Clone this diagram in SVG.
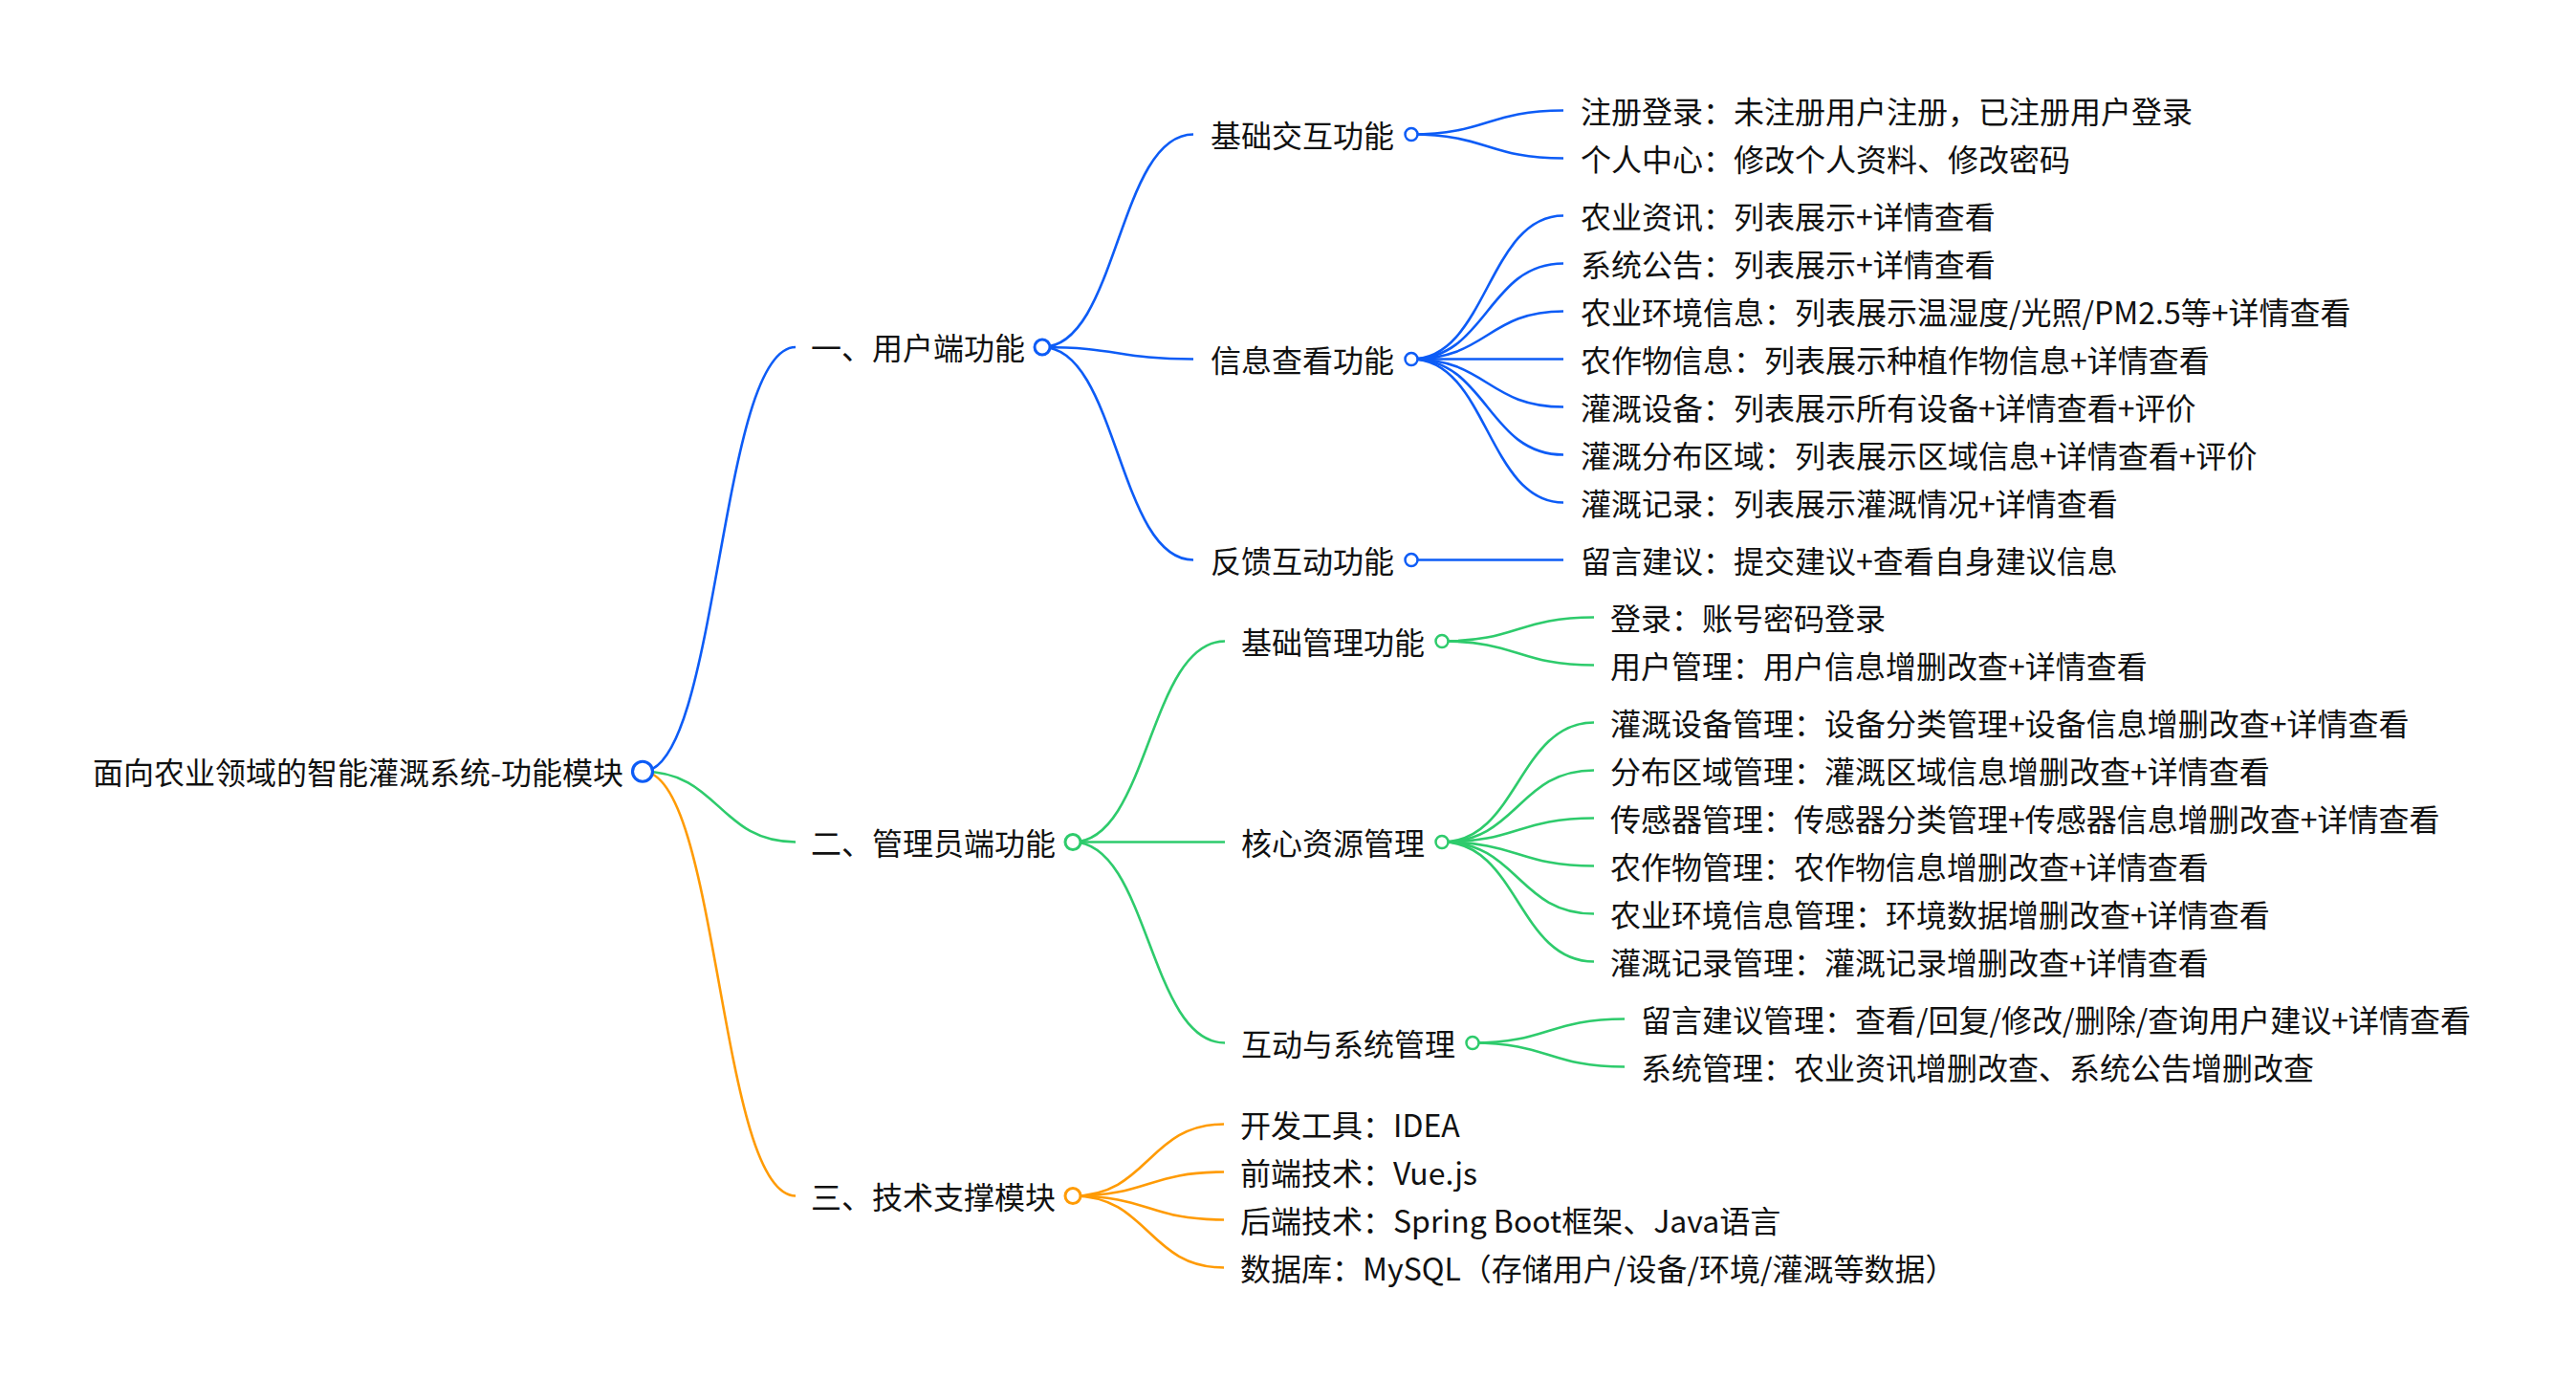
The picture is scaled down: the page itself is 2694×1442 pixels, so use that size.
<svg xmlns="http://www.w3.org/2000/svg" width="2694" height="1442" viewBox="0 0 2694 1442">
<style>
text{font-family:"Noto Sans CJK SC","Noto Sans",sans-serif;font-size:32px;fill:#111}
.ln{fill:none;stroke-width:2.6}
.b{stroke:#0d5cf6}
.g{stroke:#2ecb6c}
.o{stroke:#ff9b05}
.c0{fill:#fff;stroke-width:3.2}
.c1{fill:#fff;stroke-width:3}
.c2{fill:#fff;stroke-width:2.5}
</style>
<rect width="2694" height="1442" fill="#fff"/>
<g id="connectors">
<path class="ln b" d="M672,806.75 C752,806.75 752,363 832,363"/>
<path class="ln g" d="M672,806.75 C752,806.75 752,880.5 832,880.5"/>
<path class="ln o" d="M672,806.75 C752,806.75 752,1250.5 832,1250.5"/>
<path class="ln b" d="M1090,363 C1169,363 1169,140.5 1248,140.5"/>
<path class="ln b" d="M1090,363 C1169,363 1169,375.5 1248,375.5"/>
<path class="ln b" d="M1090,363 C1169,363 1169,585.5 1248,585.5"/>
<path class="ln b" d="M1476,140.5 C1555.5,140.5 1555.5,115.5 1635,115.5"/>
<path class="ln b" d="M1476,140.5 C1555.5,140.5 1555.5,165.5 1635,165.5"/>
<path class="ln b" d="M1476,375.5 C1555.5,375.5 1555.5,225.5 1635,225.5"/>
<path class="ln b" d="M1476,375.5 C1555.5,375.5 1555.5,275.5 1635,275.5"/>
<path class="ln b" d="M1476,375.5 C1555.5,375.5 1555.5,325.5 1635,325.5"/>
<path class="ln b" d="M1476,375.5 L1635,375.5"/>
<path class="ln b" d="M1476,375.5 C1555.5,375.5 1555.5,425.5 1635,425.5"/>
<path class="ln b" d="M1476,375.5 C1555.5,375.5 1555.5,475.5 1635,475.5"/>
<path class="ln b" d="M1476,375.5 C1555.5,375.5 1555.5,525.5 1635,525.5"/>
<path class="ln b" d="M1476,585.5 L1635,585.5"/>
<path class="ln g" d="M1122,880.5 C1201.5,880.5 1201.5,670.5 1281,670.5"/>
<path class="ln g" d="M1122,880.5 L1281,880.5"/>
<path class="ln g" d="M1122,880.5 C1201.5,880.5 1201.5,1090.5 1281,1090.5"/>
<path class="ln g" d="M1508,670.5 C1587.5,670.5 1587.5,645.5 1667,645.5"/>
<path class="ln g" d="M1508,670.5 C1587.5,670.5 1587.5,695.5 1667,695.5"/>
<path class="ln g" d="M1508,880.5 C1587.5,880.5 1587.5,755.5 1667,755.5"/>
<path class="ln g" d="M1508,880.5 C1587.5,880.5 1587.5,805.5 1667,805.5"/>
<path class="ln g" d="M1508,880.5 C1587.5,880.5 1587.5,855.5 1667,855.5"/>
<path class="ln g" d="M1508,880.5 C1587.5,880.5 1587.5,905.5 1667,905.5"/>
<path class="ln g" d="M1508,880.5 C1587.5,880.5 1587.5,955.5 1667,955.5"/>
<path class="ln g" d="M1508,880.5 C1587.5,880.5 1587.5,1005.5 1667,1005.5"/>
<path class="ln g" d="M1540,1090.5 C1619.5,1090.5 1619.5,1065.5 1699,1065.5"/>
<path class="ln g" d="M1540,1090.5 C1619.5,1090.5 1619.5,1115.5 1699,1115.5"/>
<path class="ln o" d="M1122,1250.5 C1201,1250.5 1201,1175.5 1280,1175.5"/>
<path class="ln o" d="M1122,1250.5 C1201,1250.5 1201,1225.5 1280,1225.5"/>
<path class="ln o" d="M1122,1250.5 C1201,1250.5 1201,1275.5 1280,1275.5"/>
<path class="ln o" d="M1122,1250.5 C1201,1250.5 1201,1325.5 1280,1325.5"/>
</g>
<g id="root"><text x="652" y="819.75" text-anchor="end">面向农业领域的智能灌溉系统-功能模块</text><circle class="c0 b" cx="672" cy="806.75" r="10.5"/></g>
<g id="n-user"><text x="848" y="376">一、用户端功能</text><circle class="c1 b" cx="1090" cy="363" r="8"/></g>
<g id="n-user-basic"><text x="1266" y="153.5">基础交互功能</text><circle class="c2 b" cx="1476" cy="140.5" r="6.5"/></g>
<g id="n-user-info"><text x="1266" y="388.5">信息查看功能</text><circle class="c2 b" cx="1476" cy="375.5" r="6.5"/></g>
<g id="n-user-feedback"><text x="1266" y="598.5">反馈互动功能</text><circle class="c2 b" cx="1476" cy="585.5" r="6.5"/></g>
<g id="leaf-u1"><text x="1653" y="128.5">注册登录：未注册用户注册，已注册用户登录</text></g>
<g id="leaf-u2"><text x="1653" y="178.5">个人中心：修改个人资料、修改密码</text></g>
<g id="leaf-u3"><text x="1653" y="238.5">农业资讯：列表展示+详情查看</text></g>
<g id="leaf-u4"><text x="1653" y="288.5">系统公告：列表展示+详情查看</text></g>
<g id="leaf-u5"><text x="1653" y="338.5">农业环境信息：列表展示温湿度/光照/PM2.5等+详情查看</text></g>
<g id="leaf-u6"><text x="1653" y="388.5">农作物信息：列表展示种植作物信息+详情查看</text></g>
<g id="leaf-u7"><text x="1653" y="438.5">灌溉设备：列表展示所有设备+详情查看+评价</text></g>
<g id="leaf-u8"><text x="1653" y="488.5">灌溉分布区域：列表展示区域信息+详情查看+评价</text></g>
<g id="leaf-u9"><text x="1653" y="538.5">灌溉记录：列表展示灌溉情况+详情查看</text></g>
<g id="leaf-u10"><text x="1653" y="598.5">留言建议：提交建议+查看自身建议信息</text></g>
<g id="n-admin"><text x="848" y="893.5">二、管理员端功能</text><circle class="c1 g" cx="1122" cy="880.5" r="8"/></g>
<g id="n-admin-basic"><text x="1298" y="683.5">基础管理功能</text><circle class="c2 g" cx="1508" cy="670.5" r="6.5"/></g>
<g id="n-admin-core"><text x="1298" y="893.5">核心资源管理</text><circle class="c2 g" cx="1508" cy="880.5" r="6.5"/></g>
<g id="n-admin-sys"><text x="1298" y="1103.5">互动与系统管理</text><circle class="c2 g" cx="1540" cy="1090.5" r="6.5"/></g>
<g id="leaf-a1"><text x="1684" y="658.5">登录：账号密码登录</text></g>
<g id="leaf-a2"><text x="1684" y="708.5">用户管理：用户信息增删改查+详情查看</text></g>
<g id="leaf-a3"><text x="1684" y="768.5">灌溉设备管理：设备分类管理+设备信息增删改查+详情查看</text></g>
<g id="leaf-a4"><text x="1684" y="818.5">分布区域管理：灌溉区域信息增删改查+详情查看</text></g>
<g id="leaf-a5"><text x="1684" y="868.5">传感器管理：传感器分类管理+传感器信息增删改查+详情查看</text></g>
<g id="leaf-a6"><text x="1684" y="918.5">农作物管理：农作物信息增删改查+详情查看</text></g>
<g id="leaf-a7"><text x="1684" y="968.5">农业环境信息管理：环境数据增删改查+详情查看</text></g>
<g id="leaf-a8"><text x="1684" y="1018.5">灌溉记录管理：灌溉记录增删改查+详情查看</text></g>
<g id="leaf-a9"><text x="1716" y="1078.5">留言建议管理：查看/回复/修改/删除/查询用户建议+详情查看</text></g>
<g id="leaf-a10"><text x="1716" y="1128.5">系统管理：农业资讯增删改查、系统公告增删改查</text></g>
<g id="n-tech"><text x="848" y="1263.5">三、技术支撑模块</text><circle class="c1 o" cx="1122" cy="1250.5" r="8"/></g>
<g id="leaf-t1"><text x="1297" y="1188.5">开发工具：IDEA</text></g>
<g id="leaf-t2"><text x="1297" y="1238.5">前端技术：Vue.js</text></g>
<g id="leaf-t3"><text x="1297" y="1288.5">后端技术：Spring Boot框架、Java语言</text></g>
<g id="leaf-t4"><text x="1297" y="1338.5">数据库：MySQL（存储用户/设备/环境/灌溉等数据）</text></g>
</svg>
